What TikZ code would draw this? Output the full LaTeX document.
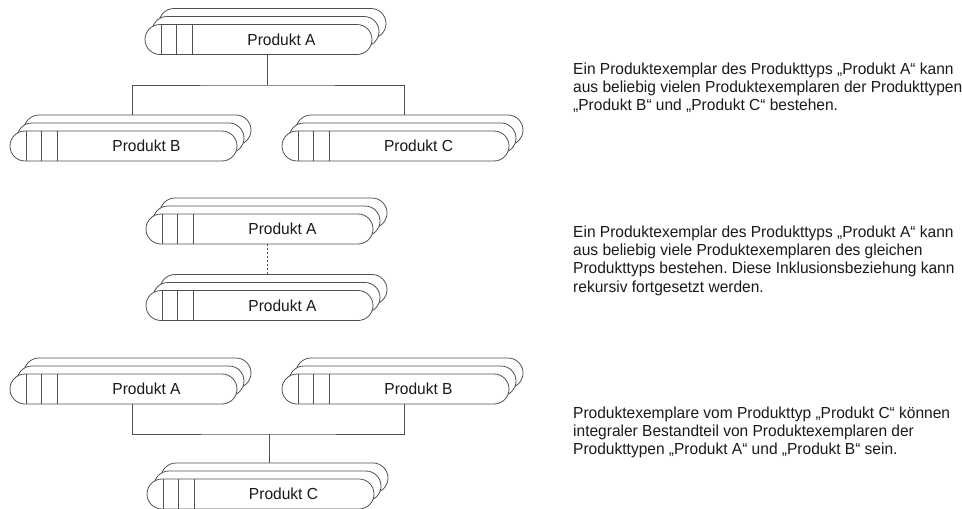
\documentclass[tikz,border=0pt]{standalone}
\usepackage{fontspec}
\setmainfont{Liberation Sans}[FakeStretch=0.97]
\usetikzlibrary{shapes.misc}
\frenchspacing
\definecolor{linec}{HTML}{505050}
\definecolor{txtc}{HTML}{1A1A1A}
\tikzset{
  pshape/.style={rounded rectangle, draw=linec, fill=white, line width=0.8pt,
    minimum width=227pt, minimum height=30pt, inner sep=0pt},
  pline/.style={draw=linec, line width=0.8pt},
  ptext/.style={font=\fontsize{16pt}{18.3pt}\selectfont, text=txtc, inner sep=0pt},
  desc/.style={font=\fontsize{16pt}{18.3pt}\selectfont\frenchspacing, text=txtc, inner sep=0pt,
    align=left, anchor=north west}
}
\newcommand\prodstack[4]{%
  \node[pshape] (#1b2) at (#2+127.5,#3-1) {};
  \node[pshape] (#1b1) at (#2+120.5,#3+7) {};
  \node[pshape] (#1) at (#2+113.5,#3+15) {};
  \draw[pline] (#2+16,#3) -- (#2+16,#3+30);
  \draw[pline] (#2+31,#3) -- (#2+31,#3+30);
  \draw[pline] (#2+47,#3) -- (#2+47,#3+30);
  \node[ptext] (#1t) at (#2+136.5,#3+15) {#4};
}
\begin{document}
\begin{tikzpicture}[x=1pt,y=-1pt]
\useasboundingbox (0,0) rectangle (962,509);
% group 1
\prodstack{gA}{145}{24.5}{Produkt A}
\prodstack{gB}{10}{131}{Produkt B}
\prodstack{gC}{282}{131}{Produkt C}
\coordinate (j1) at (267,85);
\draw[pline] (gA.south -| j1) -- (j1);
\draw[pline] ([xshift=-5.5pt]gBb2.north) |- (j1) -| ([xshift=-5.5pt]gCb2.north);
\node[desc] (d1) at (573,74-12.81) {\strut Ein Produktexemplar des Produkttyps „Produkt A“ kann\\aus beliebig vielen Produktexemplaren der Produkttypen\\„Produkt B“ und „Produkt C“ bestehen.};
% group 2
\prodstack{hA}{146}{214}{Produkt A}
\prodstack{hB}{146}{290.5}{Produkt A}
\coordinate (j2) at (267,260);
\draw[pline, dash pattern=on 2pt off 2pt] (hA.south -| j2) -- (hBb2.north -| j2);
\node[desc] (d2) at (573,237-12.81) {\strut Ein Produktexemplar des Produkttyps „Produkt A“ kann\\aus beliebig viele Produktexemplaren des gleichen\\Produkttyps bestehen. Diese Inklusionsbeziehung kann\\rekursiv fortgesetzt werden.};
% group 3
\prodstack{kA}{10}{374}{Produkt A}
\prodstack{kB}{282}{374}{Produkt B}
\prodstack{kC}{147}{479}{Produkt C}
\coordinate (j3) at (269,434);
\draw[pline] ([xshift=8.5pt]kA.south) |- (j3) -| ([xshift=8.5pt]kB.south);
\draw[pline] (j3) -- (kCb2.north -| j3);
\node[desc] (d3) at (573,418-12.81) {\strut Produktexemplare vom Produkttyp „Produkt C“ können\\integraler Bestandteil von Produktexemplaren der\\Produkttypen „Produkt A“ und „Produkt B“ sein.};
\end{tikzpicture}
\end{document}
